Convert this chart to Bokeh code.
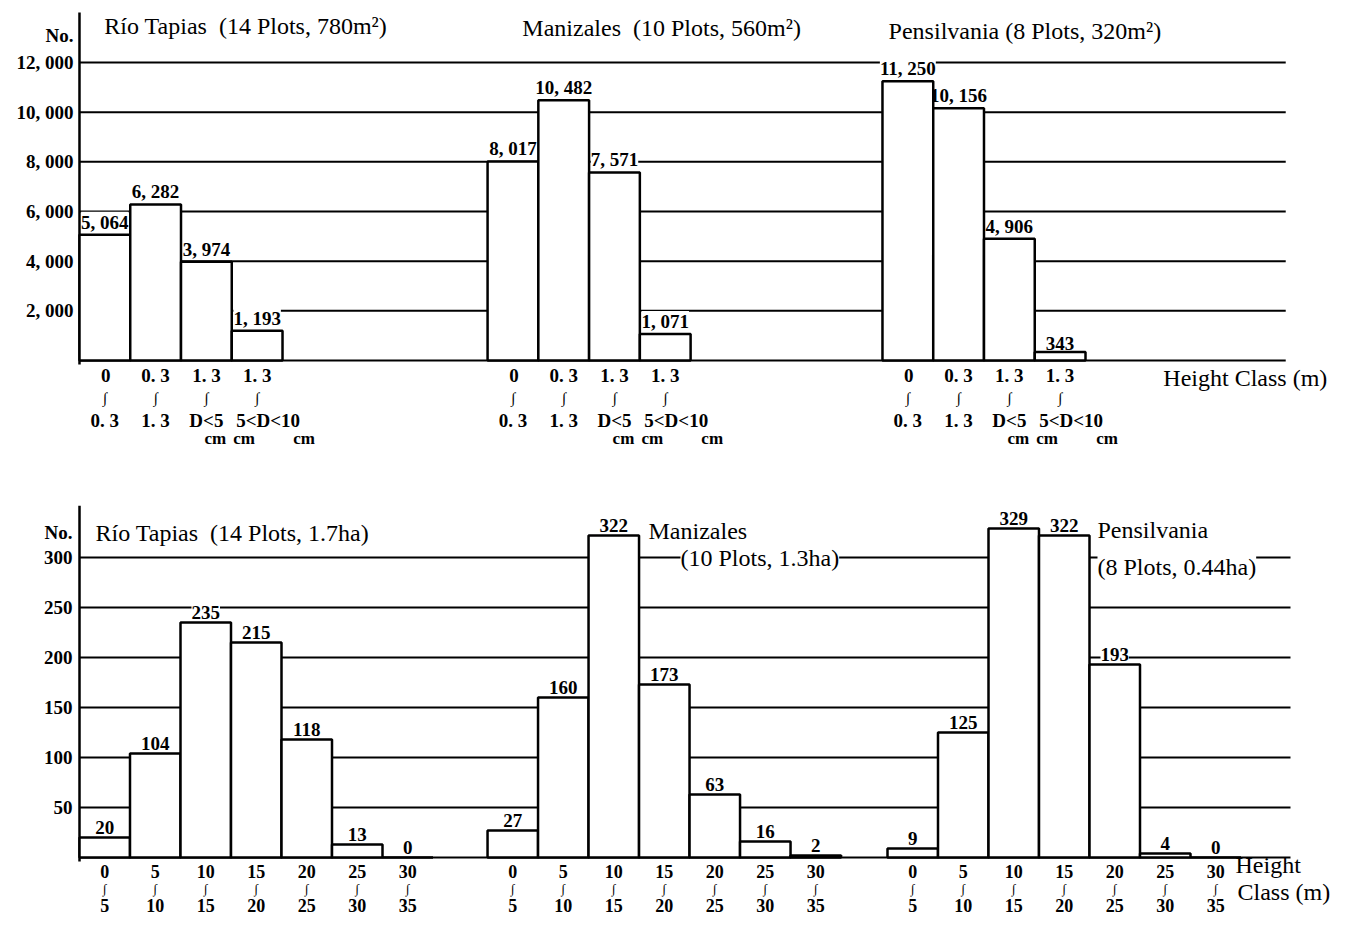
from bokeh.plotting import figure
from bokeh.layouts import column
from bokeh.models import Range1d, FixedTicker, ColumnDataSource
from bokeh.core.properties import value
from bokeh.embed import file_html
from bokeh.resources import INLINE

# ---------------- data ----------------
regen_class_labels = [
    "0\n∫\n0. 3",
    "0. 3\n∫\n1. 3",
    "1. 3\n∫\nD<5\ncm",
    "1. 3\n∫\n5<D<10\ncm" + "\u00a0" * 9 + "cm",
]
regen_rio_tapias = [5064, 6282, 3974, 1193]
regen_manizales = [8017, 10482, 7571, 1071]
regen_pensilvania = [11250, 10156, 4906, 343]
regen_titles = ["Río Tapias\u00a0\u00a0(14 Plots, 780m²)",
                "Manizales\u00a0\u00a0(10 Plots, 560m²)",
                "Pensilvania (8 Plots, 320m²)"]
regen_yticks = [2000, 4000, 6000, 8000, 10000, 12000]

tree_class_labels = ["0\n∫\n5", "5\n∫\n10", "10\n∫\n15", "15\n∫\n20",
                     "20\n∫\n25", "25\n∫\n30", "30\n∫\n35"]
tree_rio_tapias = [20, 104, 235, 215, 118, 13, 0]
tree_manizales = [27, 160, 322, 173, 63, 16, 2]
tree_pensilvania = [9, 125, 329, 322, 193, 4, 0]
tree_titles = ["Río Tapias\u00a0\u00a0(14 Plots, 1.7ha)", "Manizales", "(10 Plots, 1.3ha)",
               "Pensilvania", "(8 Plots, 0.44ha)"]
tree_yticks = [50, 100, 150, 200, 250, 300]

axis_title = "No."
x_title = "Height Class (m)"

# ---------------- styling ----------------
W = 1333
SERIF = "Liberation Serif"


def fmt_num(v):
    return f"{v:,}".replace(",", ", ")


def make_panel(height, b_left, b_top, origin_px, unit, px_per_val, baseline_px,
               starts, grid_end_px, series_list, class_labels, yticks,
               titles, title_pos, title_size, line_dy, line_dx, line_sizes,
               label_dy, no_center_px, ylab_standoff, axis_top_px,
               xtitle_items):
    frame_top = b_top
    frame_bottom = height
    x0 = -(origin_px - b_left) / unit
    x1 = (W - origin_px) / unit
    y1 = (baseline_px - frame_top) / px_per_val
    y0 = -(frame_bottom - baseline_px) / px_per_val
    grid_end = (grid_end_px - origin_px) / unit

    p = figure(width=W, height=height, output_backend="svg", toolbar_location=None,
               x_range=Range1d(x0, x1), y_range=Range1d(y0, y1),
               x_axis_location=None,
               min_border_left=b_left, min_border_right=0,
               min_border_top=b_top, min_border_bottom=0)
    p.outline_line_color = None
    p.grid.visible = False

    # gridlines and baseline
    p.segment(x0=[0] * len(yticks), y0=yticks, x1=[grid_end] * len(yticks), y1=yticks,
              line_color="black", line_width=2)
    p.segment(x0=[0], y0=[0], x1=[grid_end], y1=[0], line_color="black", line_width=2)
    # y axis line
    p.segment(x0=[0], y0=[-4 / px_per_val], x1=[0], y1=[(baseline_px - axis_top_px) / px_per_val],
              line_color="black", line_width=2.5)

    xs, tops, labs = [], [], []
    tl_x, tl_text, tl_dy, tl_dx, tl_size = [], [], [], [], []
    for s, vals in zip(starts, series_list):
        for i, v in enumerate(vals):
            c = s + i + 0.5
            xs.append(c)
            tops.append(v)
            labs.append(fmt_num(v))
            for j, line in enumerate(class_labels[i].split("\n")):
                tl_x.append(c)
                tl_text.append(line)
                tl_dy.append(line_dy[j])
                tl_dx.append(line_dx.get((i, j), 0))
                tl_size.append(line_sizes[j])

    src = ColumnDataSource(dict(x=xs, top=tops, label=labs,
                                left=[x - 0.5 for x in xs], right=[x + 0.5 for x in xs],
                                bottom=[0] * len(xs)))

    # titles (white boxes break the gridlines)
    tsrc = ColumnDataSource(dict(x=[(tp[0] - origin_px) / unit for tp in title_pos],
                                 y=[(baseline_px - tp[1]) / px_per_val for tp in title_pos],
                                 text=titles))
    p.text(x="x", y="y", text="text", source=tsrc, text_align="left", text_baseline="middle",
           text_font=value(SERIF), text_font_size=value(title_size), text_color="black",
           background_fill_color="white")

    # value labels
    p.text(x="x", y="top", text="label", source=src, text_align="center",
           text_baseline="bottom", y_offset=label_dy,
           text_font=value(SERIF), text_font_style="bold",
           text_font_size=value("19px"), text_color="black",
           background_fill_color="white")

    # bars
    p.quad(left="left", right="right", bottom="bottom", top="top", source=src,
           fill_color="white", line_color="black", line_width=2.5)

    # class labels under the bars
    csrc = ColumnDataSource(dict(x=tl_x, y=[0] * len(tl_x), text=tl_text,
                                 dy=tl_dy, dx=tl_dx, size=tl_size))
    p.text(x="x", y="y", text="text", source=csrc, x_offset="dx", y_offset="dy",
           text_align="center", text_baseline="middle",
           text_font=value(SERIF), text_font_style="bold", text_font_size="size",
           text_color="black")

    # x-axis title
    xsrc = ColumnDataSource(dict(x=[(it[1] - origin_px) / unit for it in xtitle_items],
                                 y=[(baseline_px - it[2]) / px_per_val for it in xtitle_items],
                                 text=[it[0] for it in xtitle_items]))
    p.text(x="x", y="y", text="text", source=xsrc, text_align="left", text_baseline="middle",
           text_font=value(SERIF), text_font_size=value(xtitle_items[0][3]), text_color="black")

    # y axis: tick labels only (+ "No.")
    no_val = (baseline_px - no_center_px) / px_per_val
    p.yaxis.ticker = FixedTicker(ticks=yticks + [no_val])
    over = {t: fmt_num(t) for t in yticks}
    over[no_val] = axis_title
    p.yaxis.major_label_overrides = over
    p.yaxis.axis_line_color = None
    p.yaxis.major_tick_line_color = None
    p.yaxis.minor_tick_line_color = None
    p.yaxis.major_tick_out = 0
    p.yaxis.major_tick_in = 0
    p.yaxis.major_label_standoff = ylab_standoff
    p.yaxis.major_label_text_font = SERIF
    p.yaxis.major_label_text_font_style = "bold"
    p.yaxis.major_label_text_font_size = "19px"
    p.yaxis.major_label_text_color = "black"
    return p


# ---------------- top panel: regeneration ----------------
TOP_H = 462
top = make_panel(TOP_H, b_left=70, b_top=10, origin_px=73, unit=51.0,
                 px_per_val=298 / 12000, baseline_px=360,
                 starts=[0, 8.04, 15.82], grid_end_px=1285,
                 series_list=[regen_rio_tapias, regen_manizales, regen_pensilvania],
                 class_labels=regen_class_labels, yticks=regen_yticks,
                 titles=regen_titles, title_pos=[(98, 25), (518, 27), (886, 30)],
                 title_size="24px",
                 line_dy=[15, 37, 60, 78],
                 line_dx={(0, 0): 1, (2, 3): 9, (3, 2): 11, (3, 3): 17},
                 line_sizes=["19px", "15px", "19px", "17px"], label_dy=-2,
                 no_center_px=35, ylab_standoff=3, axis_top_px=12,
                 xtitle_items=[(x_title, 1162, 377, "24px")])

# ---------------- bottom panel: trees ----------------
BOT_H = 456
SH = 3  # bottom panel lifted a little so the class labels fit the page
bot = make_panel(BOT_H, b_left=76, b_top=46 - SH, origin_px=79, unit=50.5,
                 px_per_val=1.0, baseline_px=860 - SH - TOP_H,
                 starts=[0, 8.08, 16.0], grid_end_px=1290,
                 series_list=[tree_rio_tapias, tree_manizales, tree_pensilvania],
                 class_labels=tree_class_labels, yticks=tree_yticks,
                 titles=tree_titles,
                 title_pos=[(95, 535 - SH - TOP_H), (648, 533 - SH - TOP_H),
                            (680, 560 - SH - TOP_H), (1097, 532 - SH - TOP_H),
                            (1097, 569 - SH - TOP_H)],
                 title_size="24px",
                 line_dy=[14, 31, 48],
                 line_dx={},
                 line_sizes=["18px", "13px", "18px"], label_dy=-4,
                 no_center_px=535 - SH - TOP_H, ylab_standoff=4,
                 axis_top_px=508 - SH - TOP_H,
                 xtitle_items=[("Height", 1235, 867 - SH - TOP_H, "24px"),
                               ("Class (m)", 1237, 894 - SH - TOP_H, "24px")])

layout = column(top, bot, spacing=0)
open("out.html", "w").write(file_html(layout, INLINE))
